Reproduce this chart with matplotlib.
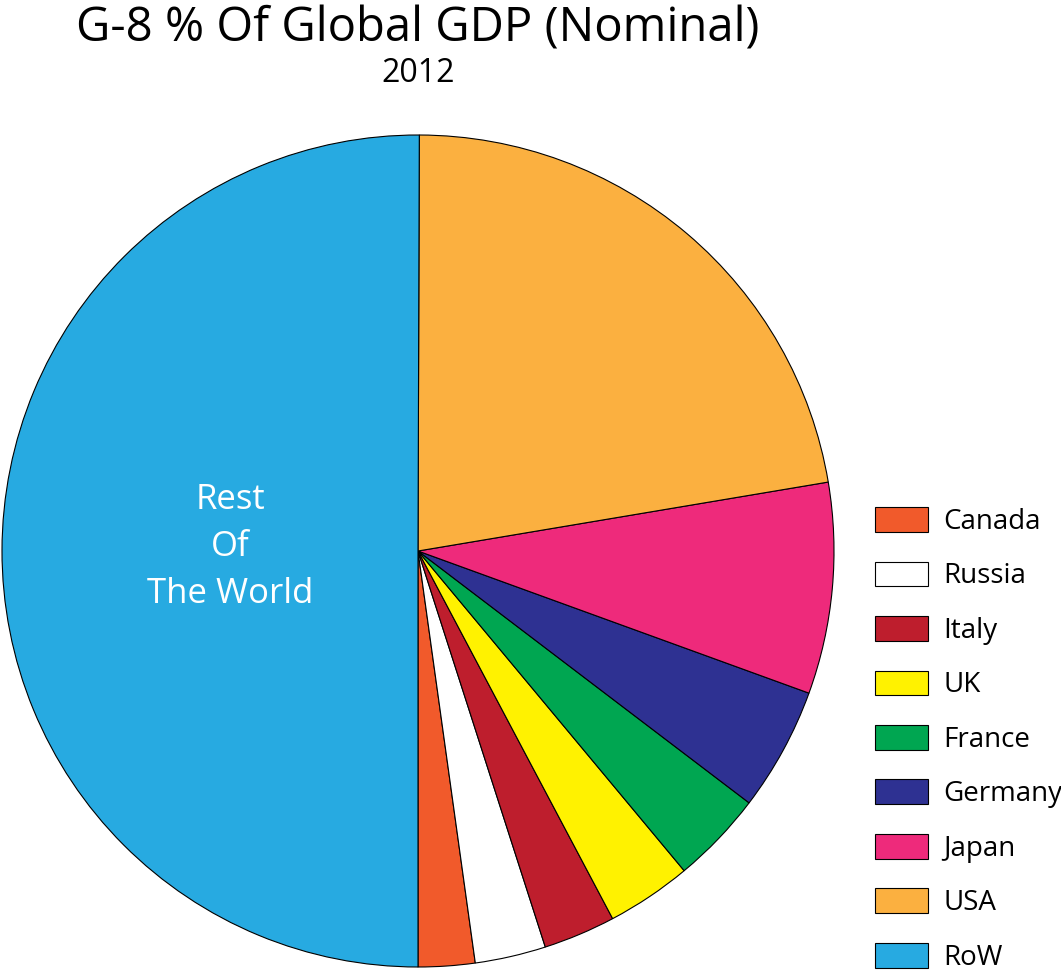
import matplotlib
matplotlib.use("Agg")
from matplotlib import pyplot as plt

plt.rcParams['font.family'] = ['Open Sans', 'DejaVu Sans']

countries = ["Canada", "Russia", "Italy", "UK", "France", "Germany", "Japan", "USA", "RoW"]
share = [2.2, 2.75, 2.8, 3.3, 3.6, 4.8, 8.2, 22.3, 50.05]
colours = ["#F15A2B", "#FFFFFF", "#BE1E2D", "#FFF200", "#00A651",
           "#2E3192", "#EE2A7B", "#FBB040", "#27AAE1"]

W, H = 1061, 971
fig = plt.figure(figsize=(W / 100, H / 100), dpi=100)

# pie centre (418, 551) px, radius 416 px
cx, cy, r = 418, 551, 416
ax = fig.add_axes([(cx - r) / W, (H - cy - r) / H, 2 * r / W, 2 * r / H])
wedges, _ = ax.pie(share, colors=colours, startangle=-90, counterclock=True,
                   radius=1, wedgeprops=dict(edgecolor="black", linewidth=0.8))
for w in wedges:
    w.set_clip_on(False)
ax.set_xlim(-1, 1)
ax.set_ylim(-1, 1)
ax.set_aspect("equal")
ax.axis("off")

ax.text(-0.451, 0.01, "Rest\nOf\nThe World", color="white", fontsize=25,
        ha="center", va="center", linespacing=1.5)

fig.text(418 / W, 1 - 29 / H, "G-8 % Of Global GDP (Nominal)", fontsize=34,
         ha="center", va="center")
fig.text(418 / W, 1 - 74 / H, "2012", fontsize=23, ha="center", va="center")

leg = fig.legend(wedges, countries, loc="upper left",
                 bbox_to_anchor=(875 / W, 1 - 507 / H), frameon=False,
                 fontsize=20, handlelength=1.9, handleheight=1.0,
                 handletextpad=0.55, labelspacing=0.92, borderpad=0,
                 borderaxespad=0)

fig.savefig("out.png", dpi=100, facecolor="white")
